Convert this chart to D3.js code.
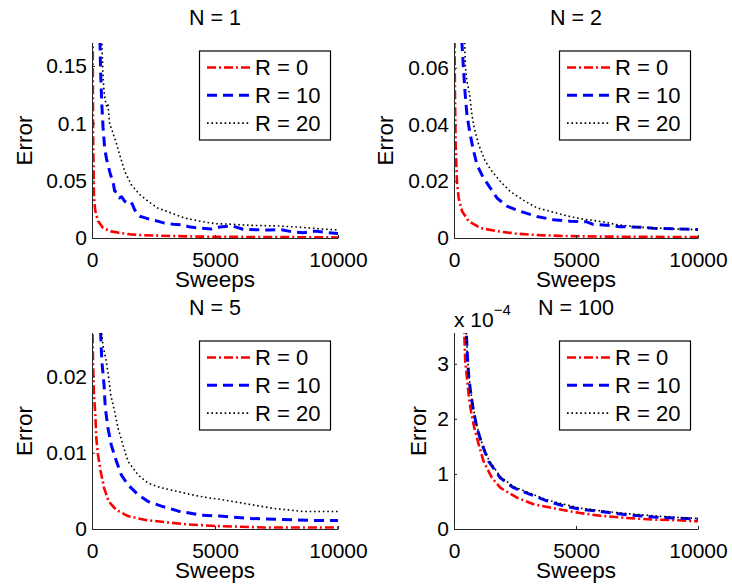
<!DOCTYPE html>
<html><head><meta charset="utf-8">
<script src="https://cdn.jsdelivr.net/npm/d3@7"></script>
<style>
html,body{margin:0;padding:0;background:#fff;}
svg{display:block;font-family:"Liberation Sans",Arial,Helvetica,sans-serif;}
</style></head><body>
<svg id="fig" width="732" height="587"></svg>
<script>
// ---- chart values ----
const panelTitles = ["N = 1", "N = 2", "N = 5", "N = 100"];
const seriesLabels = ["R = 0", "R = 10", "R = 20"];
const sweepTicks = [0, 5000, 10000];
const errorTicksN1 = [0, 0.05, 0.1, 0.15];
const errorTicksN2 = [0, 0.02, 0.04, 0.06];
const errorTicksN5 = [0, 0.01, 0.02];
const errorTicksN100 = [0, 1e-4, 2e-4, 3e-4];
const errorMax = [0.17, 0.0687, 0.0257, 3.56e-4];

// each point: [sweeps, error]
const n1R0 = [[10,0.4],[30,0.16],[45,0.09],[80,0.035],[135,0.0235],[245,0.0148],[450,0.0087],[770,0.0058],[1100,0.0045],[1550,0.0032],[2000,0.0025],[2760,0.002],[3500,0.0016],[4400,0.0012],[5500,0.001],[6500,0.0009],[7500,0.0008],[8500,0.0007],[10000,0.0005]];
const n1R10 = [[300,0.2],[330,0.165],[350,0.145],[400,0.116],[450,0.096],[515,0.078],[600,0.068],[650,0.064],[730,0.057],[800,0.052],[850,0.0497],[920,0.041],[1000,0.04],[1120,0.035],[1200,0.036],[1330,0.032],[1450,0.031],[1550,0.032],[1650,0.029],[1730,0.0247],[1850,0.021],[1940,0.019],[2100,0.018],[2400,0.016],[2700,0.0145],[2950,0.013],[3300,0.012],[3620,0.0116],[4000,0.0095],[4300,0.0087],[4850,0.0078],[5200,0.0096],[5680,0.0107],[6140,0.0076],[6700,0.0072],[7240,0.007],[7710,0.0072],[8170,0.0052],[8590,0.0046],[9070,0.006],[9590,0.0046],[10000,0.004]];
const n1R20 = [[380,0.2],[410,0.165],[450,0.14],[500,0.125],[560,0.118],[600,0.114],[650,0.116],[720,0.099],[800,0.095],[920,0.087],[1000,0.082],[1120,0.073],[1330,0.058],[1600,0.0465],[1940,0.0378],[2280,0.032],[2680,0.026],[3220,0.0218],[3770,0.0174],[4430,0.0145],[5000,0.0125],[5680,0.012],[6500,0.011],[7600,0.0105],[8500,0.0093],[9500,0.0076],[10000,0.007]];

const n2R0 = [[5,0.1],[20,0.07],[40,0.05],[70,0.032],[120,0.02],[190,0.0141],[330,0.0094],[600,0.0059],[1080,0.0035],[1760,0.0024],[2580,0.0015],[3500,0.001],[4500,0.0007],[6000,0.0005],[8000,0.0004],[10000,0.0003]];
const n2R10 = [[300,0.075],[325,0.0687],[395,0.0587],[460,0.0505],[530,0.0434],[640,0.0376],[775,0.0317],[940,0.0258],[1210,0.0211],[1490,0.0176],[1760,0.0141],[2170,0.0112],[2710,0.0094],[3400,0.0076],[4080,0.0064],[4760,0.0059],[5440,0.0057],[5700,0.0048],[6260,0.0045],[6800,0.004],[7630,0.0038],[8160,0.0034],[9130,0.0032],[10000,0.003]];
const n2R20 = [[420,0.075],[435,0.0687],[470,0.06],[530,0.0553],[640,0.0505],[735,0.0434],[830,0.0387],[1010,0.0329],[1280,0.027],[1555,0.0235],[1895,0.02],[2300,0.0164],[2920,0.0129],[3400,0.0106],[3940,0.0094],[4490,0.0081],[5170,0.0068],[6120,0.0057],[6670,0.0047],[7630,0.0038],[8500,0.0034],[9300,0.0031],[10000,0.003]];

const n5R0 = [[0,0.03],[40,0.022],[80,0.0176],[135,0.015],[175,0.0119],[245,0.0097],[350,0.0076],[490,0.0054],[680,0.0036],[990,0.0025],[1460,0.0017],[2140,0.0012],[2950,0.0009],[3900,0.0006],[5000,0.0004],[7000,0.0002],[10000,0.0002]];
const n5R10 = [[330,0.028],[350,0.0257],[400,0.022],[490,0.0189],[540,0.0159],[650,0.0132],[785,0.011],[990,0.0089],[1190,0.0071],[1460,0.0058],[1870,0.0045],[2280,0.0036],[2820,0.003],[3360,0.0025],[3650,0.0022],[3800,0.0022],[4440,0.0018],[5200,0.0017],[6290,0.0014],[7100,0.0013],[8170,0.0012],[9130,0.0011],[10000,0.0011]];
const n5R20 = [[370,0.028],[390,0.0257],[450,0.024],[580,0.022],[680,0.0198],[760,0.0176],[920,0.0154],[1060,0.0132],[1260,0.011],[1460,0.0089],[1870,0.0071],[2280,0.006],[2820,0.0054],[3500,0.0049],[4040,0.0045],[4700,0.0041],[5200,0.0039],[5750,0.0036],[6290,0.0033],[7370,0.0027],[8590,0.0023],[9670,0.0023],[10000,0.0023]];

const n100R0 = [[400,3.8e-4],[420,3.56e-4],[460,3.05e-4],[530,2.75e-4],[600,2.44e-4],[695,2.14e-4],[830,1.84e-4],[1010,1.54e-4],[1210,1.23e-4],[1555,0.93e-4],[1895,0.75e-4],[2580,0.57e-4],[3260,0.45e-4],[3940,0.39e-4],[4630,0.33e-4],[5170,0.29e-4],[5990,0.24e-4],[7080,0.2e-4],[8170,0.17e-4],[9130,0.16e-4],[10000,0.14e-4]];
const n100R10 = [[490,3.8e-4],[505,3.56e-4],[560,3.05e-4],[610,2.75e-4],[695,2.44e-4],[800,2.14e-4],[940,1.84e-4],[1145,1.54e-4],[1420,1.23e-4],[1895,0.93e-4],[2440,0.75e-4],[3120,0.63e-4],[3800,0.51e-4],[4490,0.42e-4],[5170,0.36e-4],[5990,0.32e-4],[7080,0.26e-4],[8170,0.22e-4],[9130,0.2e-4],[10000,0.18e-4]];
const n100R20 = [[490,3.8e-4],[505,3.56e-4],[560,3.08e-4],[610,2.8e-4],[695,2.48e-4],[800,2.17e-4],[940,1.87e-4],[1145,1.56e-4],[1420,1.26e-4],[1895,0.95e-4],[2440,0.77e-4],[3120,0.65e-4],[3800,0.53e-4],[4490,0.45e-4],[5170,0.38e-4],[5990,0.33e-4],[7080,0.28e-4],[8170,0.24e-4],[9130,0.21e-4],[10000,0.19e-4]];

// ---- layout & styles ----
const seriesStyles = [
  {color: "#ff0000", width: 2.6, dash: "9,3,2,3"},
  {color: "#0000ff", width: 3, dash: "10,6"},
  {color: "#000000", width: 1.6, dash: "1.6,2.8"}
];

const panels = [
  {title: panelTitles[0], series: [n1R0, n1R10, n1R20], yMax: errorMax[0], yTicks: errorTicksN1,
   box: {l: 92, r: 338, t: 43, b: 238}, ylabelX: 32, fmt: d => String(d)},
  {title: panelTitles[1], series: [n2R0, n2R10, n2R20], yMax: errorMax[1], yTicks: errorTicksN2,
   box: {l: 454, r: 698, t: 43, b: 238}, ylabelX: 393, fmt: d => String(d)},
  {title: panelTitles[2], series: [n5R0, n5R10, n5R20], yMax: errorMax[2], yTicks: errorTicksN5,
   box: {l: 92, r: 338, t: 333, b: 529}, ylabelX: 32, fmt: d => String(d)},
  {title: panelTitles[3], series: [n100R0, n100R10, n100R20], yMax: errorMax[3], yTicks: errorTicksN100,
   box: {l: 454, r: 698, t: 333, b: 529}, ylabelX: 426, fmt: d => String(Math.round(d * 1e4)), exponent: "−4"}
];

const svg = d3.select("#fig");
const defs = svg.append("defs");
const axisColor = "#262626";

panels.forEach((p, i) => {
  const b = p.box;
  const x = d3.scaleLinear().domain([0, 10000]).range([b.l, b.r]);
  const y = d3.scaleLinear().domain([0, p.yMax]).range([b.b, b.t]);
  const g = svg.append("g");

  defs.append("clipPath").attr("id", "clip" + i)
    .append("rect").attr("x", b.l).attr("y", b.t).attr("width", b.r - b.l).attr("height", b.b - b.t);

  // curves
  const line = d3.line().x(d => x(d[0])).y(d => y(d[1]));
  const plot = g.append("g").attr("clip-path", `url(#clip${i})`);
  p.series.forEach((s, k) => {
    const st = seriesStyles[k];
    plot.append("path").datum(s)
      .attr("d", line)
      .attr("fill", "none")
      .attr("stroke", st.color)
      .attr("stroke-width", st.width)
      .attr("stroke-dasharray", st.dash)
      .attr("stroke-linejoin", "round");
  });

  // axes (left and bottom only, ticks pointing inward)
  const xAxis = g.append("g").attr("transform", `translate(0,${b.b})`)
    .call(d3.axisBottom(x).tickValues(sweepTicks).tickSizeInner(-3).tickSizeOuter(0)
      .tickPadding(14).tickFormat(d3.format("d")));
  const yAxis = g.append("g").attr("transform", `translate(${b.l},0)`)
    .call(d3.axisLeft(y).tickValues(p.yTicks).tickSizeInner(-3).tickSizeOuter(0)
      .tickPadding(5).tickFormat(p.fmt));
  [xAxis, yAxis].forEach(a => {
    a.attr("font-family", null).attr("font-size", null);
    a.select(".domain").attr("stroke", axisColor).attr("stroke-width", 1);
    a.selectAll(".tick line").attr("stroke", axisColor);
    a.selectAll(".tick text").attr("fill", "#000").style("font-size", "21px");
  });
  yAxis.select(".domain").attr("d", `M0.5,${b.b}V${b.t}`);

  // titles and axis labels
  g.append("text").attr("x", (b.l + b.r) / 2).attr("y", b.t - 18)
    .attr("text-anchor", "middle").style("font-size", "21.5px").text(p.title);
  g.append("text").attr("x", (b.l + b.r) / 2).attr("y", b.b + 49)
    .attr("text-anchor", "middle").style("font-size", "22.5px").text("Sweeps");
  g.append("text")
    .attr("transform", `translate(${p.ylabelX},${(b.t + b.b) / 2}) rotate(-90)`)
    .attr("text-anchor", "middle").style("font-size", "22.5px").text("Error");

  if (p.exponent) {
    const ex = g.append("text").attr("x", b.l).attr("y", b.t - 6).style("font-size", "21px");
    ex.append("tspan").text("x 10");
    ex.append("tspan").attr("dy", -12).style("font-size", "15px").text(p.exponent);
  }

  // legend
  const lw = 131, lh = 89;
  const lx = b.r - 8 - lw, ly = b.t + 7.5;
  const lg = g.append("g").attr("transform", `translate(${lx},${ly})`);
  lg.append("rect").attr("x", 0.5).attr("y", 0.5).attr("width", lw).attr("height", lh)
    .attr("fill", "#fff").attr("stroke", "#000").attr("stroke-width", 1.2);
  seriesLabels.forEach((lab, k) => {
    const st = seriesStyles[k];
    const ry = 17 + k * 27.8;
    lg.append("line").attr("x1", 8).attr("x2", 52).attr("y1", ry).attr("y2", ry)
      .attr("stroke", st.color).attr("stroke-width", st.width).attr("stroke-dasharray", st.dash);
    lg.append("text").attr("x", 56).attr("y", ry).attr("dy", "0.36em")
      .style("font-size", "22px").text(lab);
  });
});
</script>
</body></html>
